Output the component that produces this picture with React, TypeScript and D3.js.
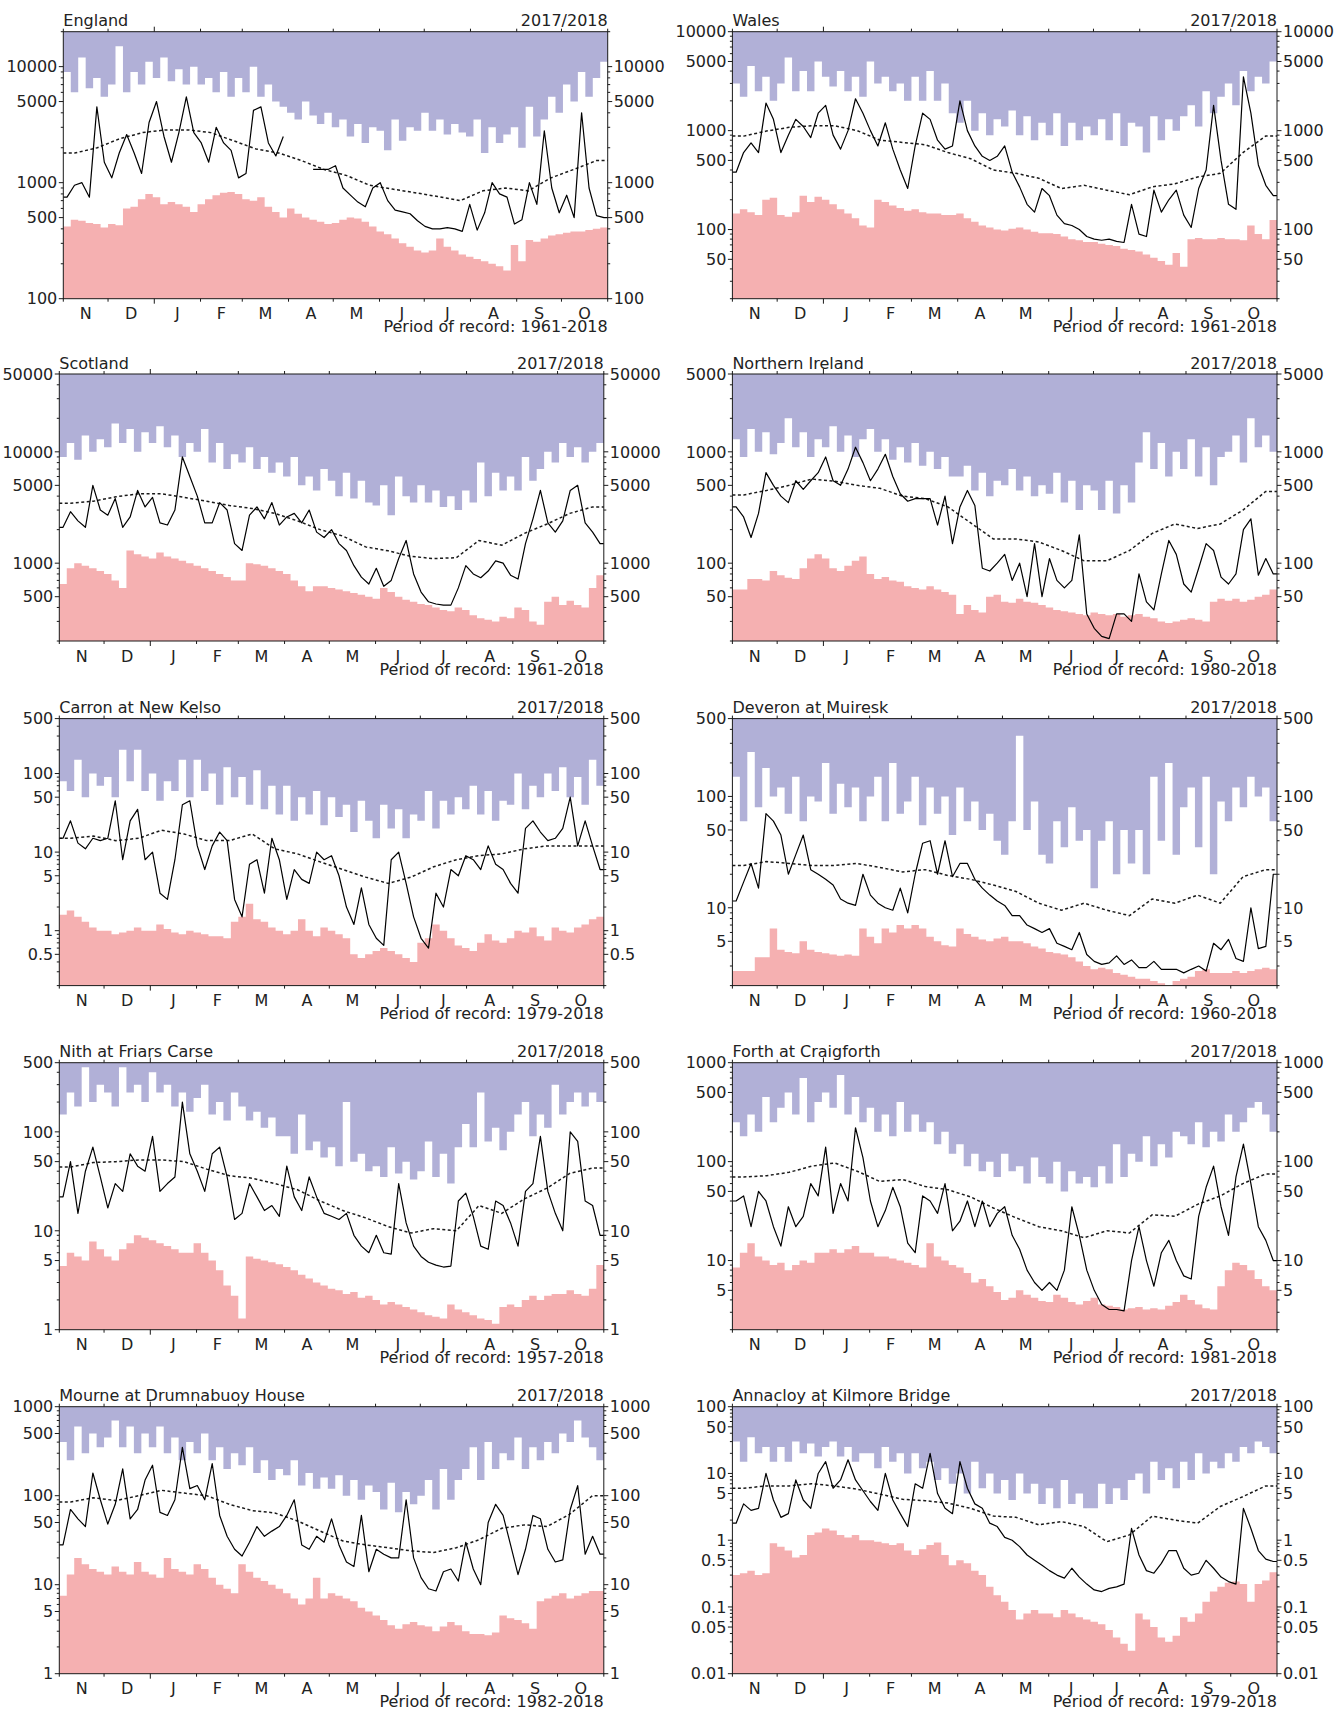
import React from 'react';
import * as d3 from 'd3';

// Mean flow is read as 24 half-month values. null = missing record.

const englandFlow = [750, 950, 1000, 750, 4500, 1500, 1100, 1800, 2600, 1800, 1200, 3300,
  5000, 2500, 1500, 2700, 5500, 2700, 2200, 1500, 3000, 2200, 1900, 1100,
  1200, 4200, 4500, 2200, 1700, 2500, null, null, null, 1300, 1300, 1300,
  1400, 900, 780, 680, 620, 900, 1000, 700, 580, 560, 540, 470,
  420, 400, 400, 410, 400, 380, 650, 390, 550, 1000, 800, 750,
  440, 480, 1000, 650, 2800, 900, 550, 780, 500, 4000, 900, 520, 500];
const englandMax = [9000, 6000, 12000, 6500, 8000, 5500, 7000, 15000, 6000, 9000, 7000, 11000,
  8000, 12000, 7500, 9500, 7000, 10000, 7000, 8000, 6000, 9000, 5500, 8000,
  6000, 10000, 5500, 7000, 5000, 4500, 4000, 3500, 5000, 3800, 3200, 4000,
  3000, 3500, 2500, 3200, 2200, 3000, 2800, 1900, 3500, 2300, 3000, 2800,
  4000, 2800, 3500, 2600, 3200, 2700, 2500, 3500, 1800, 3000, 2200, 2600,
  3000, 2000, 4500, 2500, 3500, 5500, 4000, 7000, 5000, 9000, 5500, 8000, 11000];
const englandMin = [420, 480, 470, 450, 440, 410, 440, 430, 600, 620, 720, 800,
  750, 650, 680, 650, 620, 560, 650, 720, 780, 820, 830, 800,
  720, 700, 750, 620, 560, 500, 600, 540, 500, 480, 460, 440,
  450, 480, 500, 490, 460, 420, 380, 360, 330, 300, 280, 260,
  250, 260, 330, 280, 260, 240, 230, 220, 210, 200, 190, 175,
  290, 210, 320, 310, 330, 350, 360, 370, 380, 380, 390, 400, 410];
const englandMean = [1800, 2000, 2400, 2700, 2850, 2850, 2700, 2300, 1950, 1800, 1550, 1300,
  1150, 950, 880, 820, 760, 700, 850, 900, 850, 1100, 1300, 1550];

const walesFlow = [380, 600, 750, 600, 1900, 1300, 600, 900, 1300, 1100, 850, 1500,
  1800, 900, 650, 1000, 2100, 1500, 1000, 700, 1200, 650, 400, 260,
  700, 1500, 1300, 800, 650, 700, 2000, 1000, 700, 550, 500, 550,
  700, 380, 270, 180, 150, 260, 220, 140, 115, 110, 100, 85,
  80, 78, 80, 76, 74, 180, 90, 85, 250, 150, 200, 250,
  140, 105, 260, 400, 1800, 500, 180, 160, 3500, 1500, 450, 280, 220];
const walesMax = [3000, 2200, 4500, 2500, 3500, 2000, 3000, 5500, 2500, 4000, 2500, 5000,
  3500, 2800, 4000, 2500, 3500, 2200, 5000, 3000, 3500, 2500, 3000, 2000,
  3500, 2000, 4000, 2000, 3000, 1500, 1200, 2000, 1000, 1500, 900, 1300,
  1100, 1600, 900, 1400, 800, 1200, 900, 1500, 700, 1200, 800, 1100,
  900, 1300, 800, 1500, 700, 1200, 1100, 600, 1400, 800, 1300, 1000,
  1400, 1800, 1100, 2500, 1500, 2200, 3000, 1800, 4000, 2500, 3500, 3000, 5000];
const walesMin = [145, 160, 150, 140, 200, 210, 140, 135, 150, 220, 190, 215,
  200, 180, 160, 145, 130, 110, 105, 200, 190, 175, 165, 155,
  160, 150, 145, 145, 140, 140, 145, 130, 120, 110, 105, 100,
  98, 102, 105, 100, 95, 92, 92, 90, 85, 80, 78, 75,
  75, 72, 70, 68, 64, 62, 60, 56, 52, 48, 44, 58,
  42, 80, 82, 80, 80, 82, 80, 80, 78, 110, 90, 80, 125];
const walesMean = [880, 990, 1080, 1120, 1120, 1000, 800, 760, 720, 600, 520, 400,
  370, 330, 260, 280, 250, 225, 270, 290, 340, 370, 600, 880];

const scotlandFlow = [2100, 2900, 2400, 2100, 5000, 3000, 2700, 3800, 2100, 2600, 4500, 3200,
  3900, 2300, 2200, 3000, 9000, 6000, 4000, 2300, 2300, 3500, 3000, 1500,
  1300, 2700, 3200, 2500, 3500, 2200, 2600, 2800, 2300, 3000, 1900, 1700,
  2000, 1500, 1300, 950, 750, 650, 900, 620, 700, 1100, 1600, 800,
  550, 450, 430, 420, 420, 600, 950, 800, 740, 850, 1050, 1000,
  780, 720, 1500, 2500, 4500, 2300, 1900, 2400, 4500, 5000, 2300, 1900, 1500];
const scotlandMax = [9000, 12000, 8500, 14000, 10000, 13000, 11000, 18000, 12000, 16000, 10000, 15000,
  12000, 17000, 11000, 14000, 9000, 12000, 10000, 16000, 8000, 12000, 7000, 9500,
  8000, 11000, 7000, 9000, 6500, 8000, 6000, 9000, 5000, 6000, 4500, 7000,
  5500, 4000, 6500, 3800, 5500, 3500, 3300, 5000, 2700, 6000, 4000, 3500,
  5000, 3500, 4500, 3200, 4000, 3000, 4500, 3500, 8000, 4000, 6500, 4500,
  6000, 4500, 9000, 5500, 7000, 10000, 8000, 12000, 9000, 11000, 8000, 10000, 12000];
const scotlandMin = [650, 900, 1000, 950, 900, 850, 800, 700, 600, 1300, 1200, 1150,
  1100, 1250, 1150, 1100, 1050, 1000, 950, 900, 850, 800, 750, 700,
  700, 1000, 980, 950, 900, 850, 800, 700, 620, 560, 620, 620,
  600, 580, 560, 540, 520, 500, 480, 600, 550, 500, 470, 450,
  430, 420, 400, 380, 370, 400, 380, 340, 320, 310, 300, 330,
  320, 400, 380, 300, 280, 450, 500, 420, 460, 420, 400, 600, 780];
const scotlandMean = [3450, 3600, 3950, 4200, 4200, 3900, 3600, 3300, 3100, 2800, 2400, 2000,
  1750, 1400, 1290, 1150, 1100, 1120, 1600, 1450, 1850, 2250, 2800, 3200];

const niFlow = [320, 260, 170, 280, 650, 500, 400, 350, 550, 460, 550, 650,
  900, 550, 500, 700, 1100, 800, 550, 700, 950, 600, 420, 360,
  380, 380, 380, 220, 400, 150, 320, 450, 330, 90, 85, 100,
  120, 70, 100, 50, 150, 50, 110, 70, 60, 70, 180, 35,
  26, 22, 21, 35, 35, 30, 80, 45, 38, 80, 160, 120,
  65, 55, 90, 150, 130, 75, 65, 80, 200, 250, 78, 110, 80];
const niMax = [1300, 900, 1600, 1000, 1500, 950, 1200, 2000, 1100, 1500, 900, 1300,
  1100, 1700, 1000, 1400, 900, 1300, 1600, 1000, 1300, 850, 1100, 800,
  1200, 750, 1000, 700, 900, 600, 600, 750, 450, 650, 400, 550,
  500, 700, 450, 600, 400, 500, 420, 650, 350, 550, 300, 500,
  450, 300, 550, 280, 500, 350, 800, 1500, 700, 1200, 600, 1000,
  700, 1300, 600, 1100, 500, 900, 1000, 1400, 800, 2000, 1100, 1400, 1000];
const niMin = [58, 58, 72, 72, 70, 85, 78, 74, 72, 90, 110, 120,
  110, 90, 85, 95, 105, 115, 80, 72, 75, 70, 68, 62,
  60, 58, 62, 58, 55, 52, 35, 42, 38, 36, 50, 52,
  45, 44, 48, 45, 44, 42, 40, 38, 37, 36, 35, 34,
  36, 35, 34, 35, 33, 34, 35, 33, 32, 30, 29, 30,
  31, 32, 31, 30, 45, 48, 46, 48, 45, 47, 50, 52, 58];
const niMean = [410, 450, 500, 570, 545, 500, 470, 400, 380, 320, 230, 165,
  165, 155, 130, 105, 105, 130, 185, 225, 205, 225, 300, 440];

const carronFlow = [15, 25, 13, 11, 15, 14, 15, 45, 8, 25, 35, 8,
  10, 3, 2.5, 8, 40, 45, 12, 6, 12, 18, 14, 2.5,
  1.5, 7, 8, 3, 15, 8, 2.5, 6, 4.5, 4, 10, 8,
  9, 5, 2, 1.2, 3.5, 1.2, 0.8, 0.65, 8, 10, 4, 1.5,
  0.8, 0.6, 3, 2, 6, 5, 9, 8, 6, 12, 7, 6,
  4, 3, 20, 25, 18, 14, 15, 20, 50, 12, 25, 12, 6];
const carronMax = [80, 60, 150, 50, 100, 70, 90, 50, 200, 80, 200, 60,
  100, 45, 80, 60, 150, 50, 150, 60, 100, 40, 120, 50,
  90, 40, 110, 35, 70, 30, 70, 25, 50, 30, 60, 22,
  50, 28, 40, 18, 45, 25, 15, 40, 20, 35, 15, 30,
  25, 60, 20, 45, 30, 50, 35, 70, 30, 60, 25, 45,
  40, 100, 35, 70, 50, 100, 60, 120, 50, 90, 40, 150, 70];
const carronMin = [1.6, 1.8, 1.5, 1.3, 1.1, 1.0, 1.0, 0.9, 0.95, 1.0, 1.1, 1.0,
  1.0, 1.2, 1.05, 0.95, 0.9, 1.0, 0.95, 0.9, 0.85, 0.85, 0.8, 1.3,
  1.5, 2.2, 1.4, 1.3, 1.1, 1.0, 0.9, 1.0, 1.4, 1.0, 0.85, 1.1,
  1.0, 0.9, 0.8, 0.5, 0.45, 0.5, 0.55, 0.6, 0.55, 0.5, 0.45, 0.4,
  0.7, 0.8, 1.2, 1.0, 0.8, 0.65, 0.6, 0.55, 0.7, 0.9, 0.75, 0.7,
  0.8, 1.0, 0.95, 1.1, 0.85, 0.75, 1.1, 1.0, 0.95, 1.1, 1.2, 1.4, 1.5];
const carronMean = [15, 16, 14, 15, 19, 17, 14, 14, 17, 11, 9.5, 7.5,
  6, 4.8, 4, 4.8, 6.5, 8, 9, 9.5, 11, 12, 12, 12];

const deveronFlow = [11.5, 17, 25, 15, 70, 60, 45, 20, 30, 45, 22, 20,
  18, 16, 12, 11, 10.5, 20, 13, 11, 10, 9.5, 15, 9,
  20, 38, 40, 20, 40, 19, 25, 25, 18, 15, 13, 11.5,
  10.5, 8.5, 8.5, 7, 6.5, 6, 6.5, 4.8, 4.5, 4.2, 6, 3.8,
  3.3, 3.1, 3.2, 3.7, 3.1, 3.4, 2.9, 2.9, 3.3, 2.8, 2.8, 2.8,
  2.6, 2.8, 3.0, 2.7, 4.8, 4.2, 5.2, 3.5, 3.3, 10, 4.3, 4.5, 20];
const deveronMax = [150, 60, 250, 80, 180, 100, 120, 70, 150, 60, 100, 90,
  200, 70, 130, 80, 120, 60, 100, 150, 60, 200, 70, 90,
  150, 55, 120, 70, 100, 45, 120, 60, 90, 50, 70, 40,
  30, 60, 350, 50, 90, 30, 25, 60, 35, 80, 40, 50,
  15, 40, 60, 20, 50, 25, 50, 20, 150, 40, 200, 30,
  80, 120, 35, 150, 20, 90, 60, 120, 80, 150, 100, 120, 60];
const deveronMin = [2.7, 2.7, 2.7, 3.6, 3.6, 6.5, 4.2, 4.0, 3.9, 5.0, 4.2, 4.0,
  3.9, 3.8, 3.7, 3.8, 3.7, 6.5, 5.5, 4.8, 6.5, 6.0, 7.0, 6.5,
  7.0, 6.5, 5.5, 5.0, 4.6, 4.5, 6.5, 5.8, 5.5, 5.2, 5.0, 5.3,
  5.5, 5.0, 5.0, 4.8, 4.5, 4.3, 4.0, 3.9, 3.8, 3.6, 3.3, 3.0,
  2.8, 2.9, 2.8, 2.6, 2.5, 2.4, 2.3, 2.3, 2.2, 2.1, 2.0, 2.2,
  2.3, 2.4, 2.7, 2.8, 2.6, 2.6, 2.6, 2.7, 2.6, 2.7, 2.8, 2.9, 2.8];
const deveronMean = [24, 26, 25, 24, 24, 25, 23, 21, 22, 19.5, 18, 16,
  14, 11, 9.5, 11, 9.5, 8.5, 12, 11, 13, 11, 19, 22];

const nithFlow = [22, 50, 15, 40, 70, 35, 17, 30, 25, 60, 45, 40,
  90, 25, 30, 35, 200, 60, 40, 25, 60, 70, 35, 13,
  15, 30, 22, 16, 18, 14, 45, 22, 16, 35, 22, 15,
  14, 13, 15, 9, 7, 6, 9, 6, 5.8, 30, 12, 7,
  5.5, 4.8, 4.5, 4.3, 4.4, 20, 24, 14, 7, 6.5, 20, 18,
  12, 7, 25, 30, 90, 25, 15, 10, 100, 80, 20, 18, 9];
const nithMax = [150, 250, 180, 450, 200, 300, 250, 180, 450, 250, 300, 200,
  400, 250, 300, 180, 250, 160, 220, 300, 150, 200, 130, 250,
  180, 130, 160, 110, 140, 90, 90, 60, 150, 65, 80, 55,
  70, 45, 200, 50, 60, 40, 45, 35, 70, 38, 50, 33,
  40, 80, 35, 60, 30, 70, 120, 70, 250, 80, 110, 65,
  100, 150, 200, 90, 150, 110, 300, 150, 200, 250, 180, 250, 200];
const nithMin = [4.4, 6.0, 5.5, 5.0, 7.8, 6.5, 5.5, 5.0, 6.5, 7.5, 9.0, 8.5,
  8.0, 7.5, 7.0, 6.5, 6.0, 6.0, 7.5, 6.0, 5.0, 4.0, 2.8, 2.2,
  1.3, 5.5, 5.2, 5.0, 4.8, 4.6, 4.3, 4.0, 3.6, 3.3, 3.0, 2.8,
  2.6, 2.5, 2.3, 2.4, 2.1, 2.2, 2.0, 1.8, 1.9, 1.8, 1.7, 1.6,
  1.5, 1.4, 1.35, 1.3, 1.8, 1.6, 1.5, 1.4, 1.3, 1.25, 1.15, 1.7,
  1.8, 1.7, 2.0, 2.2, 2.0, 2.2, 2.3, 2.3, 2.5, 2.3, 2.2, 2.6, 4.5];
const nithMean = [44, 49, 50, 52, 52, 50, 42, 36, 34, 30, 26, 20,
  16, 13.5, 11, 9.5, 10.5, 10, 18, 15, 21, 27, 38, 43];

const forthFlow = [40, 45, 22, 50, 40, 22, 14, 35, 22, 28, 60, 45,
  140, 30, 60, 40, 220, 110, 40, 22, 32, 55, 35, 15,
  12, 45, 40, 30, 60, 20, 25, 40, 22, 40, 22, 30,
  35, 18, 13, 8, 6, 5, 6, 5, 8, 35, 18, 8,
  5, 3.6, 3.2, 3.2, 3.1, 10, 22, 10, 5.5, 12, 16, 10,
  7, 6.5, 28, 55, 90, 35, 18, 70, 150, 60, 22, 16, 10];
const forthMax = [250, 180, 300, 200, 450, 250, 350, 500, 300, 700, 250, 400,
  500, 350, 750, 300, 450, 250, 350, 200, 300, 180, 400, 200,
  300, 200, 250, 150, 200, 120, 150, 90, 120, 80, 100, 70,
  120, 80, 90, 60, 110, 70, 60, 100, 50, 80, 60, 70,
  55, 90, 60, 150, 70, 120, 100, 180, 90, 150, 110, 200,
  180, 150, 250, 140, 200, 160, 300, 200, 250, 350, 400, 300, 200];
const forthMin = [8.5, 12, 15, 11, 10, 9, 9.5, 8, 9, 10, 9.5, 12,
  12, 13, 12, 13, 14, 12, 12, 11, 11, 10.5, 10, 9.5,
  9, 8.5, 15, 11, 10, 9, 8.5, 7.5, 6, 6.5, 5.5, 4.8,
  4, 4.2, 5, 4.5, 4.2, 3.9, 3.8, 4.5, 4.2, 3.8, 3.6, 3.9,
  4.2, 3.6, 3.5, 3.4, 3.2, 3.3, 3.4, 3.2, 3.3, 3.2, 3.5, 3.8,
  4.5, 4.0, 3.6, 3.3, 3.2, 5.5, 8, 9.5, 9, 8, 6.5, 5.5, 5];
const forthMean = [70, 72, 78, 90, 97, 80, 63, 66, 56, 52, 44, 34,
  27, 22, 20, 17, 20, 19, 29, 28, 37, 45, 60, 75];

const mourneFlow = [28, 70, 55, 45, 180, 90, 48, 80, 200, 55, 70, 150,
  220, 65, 60, 90, 350, 120, 130, 90, 230, 60, 35, 25,
  21, 30, 45, 35, 40, 45, 60, 90, 28, 25, 35, 30,
  55, 28, 18, 16, 60, 14, 25, 22, 20, 20, 90, 20,
  12, 9, 8.5, 14, 15, 11, 30, 15, 10, 50, 80, 60,
  28, 13, 25, 60, 55, 25, 18, 19, 70, 130, 22, 35, 22];
const mourneMax = [400, 250, 600, 300, 500, 350, 450, 700, 350, 600, 300, 500,
  350, 600, 300, 450, 250, 400, 300, 500, 250, 350, 200, 300,
  220, 350, 180, 250, 150, 200, 170, 250, 130, 180, 120, 160,
  120, 170, 100, 150, 90, 130, 110, 70, 140, 65, 110, 80,
  100, 150, 70, 200, 90, 150, 200, 350, 150, 400, 200, 300,
  250, 450, 200, 350, 250, 400, 300, 500, 400, 700, 450, 350, 250];
const mourneMin = [7.5, 13, 20, 17, 15, 14, 13, 16, 14, 13, 18, 14,
  13, 12, 20, 15, 14, 13, 17, 15, 12, 10, 9, 8,
  17, 14, 12, 11, 10, 9, 8, 7, 6, 7, 12, 7,
  8, 7.5, 7, 6.5, 5.5, 5, 4.5, 4, 3.5, 3.2, 3.6, 3.8,
  3.5, 3.4, 3.0, 3.4, 3.8, 3.5, 3.0, 2.8, 2.8, 2.7, 2.9, 4.5,
  4.2, 4.0, 3.7, 3.2, 6.5, 7, 7.5, 8, 7, 7.5, 8, 8.5, 8.5];
const mourneMean = [85, 95, 88, 100, 115, 107, 100, 80, 68, 64, 52, 40,
  31, 28, 26, 24, 23, 26, 32, 43, 47, 45, 62, 100];

const annacloyFlow = [1.8, 3.5, 2.8, 3, 10, 4, 2.2, 2.5, 8, 4, 3, 10,
  15, 6, 8, 16, 8, 5.5, 3.8, 2.8, 10, 4, 2.5, 1.6,
  7, 6, 20, 5, 3, 2.5, 15, 6, 3.5, 3, 1.8, 1.6,
  1.1, 1.0, 0.8, 0.6, 0.5, 0.42, 0.35, 0.3, 0.27, 0.38, 0.28, 0.22,
  0.18, 0.17, 0.19, 0.2, 0.22, 1.5, 0.6, 0.35, 0.32, 0.45, 0.7, 0.7,
  0.38, 0.3, 0.32, 0.5, 0.38, 0.28, 0.24, 0.22, 3, 1.5, 0.7, 0.52, 0.48];
const annacloyMax = [30, 15, 35, 20, 25, 15, 25, 15, 30, 20, 28, 18,
  25, 30, 18, 25, 15, 20, 20, 12, 25, 15, 20, 10,
  20, 12, 15, 8, 12, 7, 10, 5, 15, 6, 10, 5,
  8, 4, 10, 5, 7, 3.5, 6, 3, 8, 3.5, 5, 3,
  3, 7, 3.5, 6, 4, 8, 10, 5, 15, 8, 12, 6,
  15, 8, 20, 10, 15, 12, 20, 15, 25, 20, 30, 25, 20];
const annacloyMin = [0.3, 0.32, 0.35, 0.3, 0.32, 0.9, 0.8, 0.7, 0.55, 0.6, 1.2, 1.3,
  1.5, 1.4, 1.2, 1.1, 1.2, 1.0, 1.0, 0.95, 0.9, 0.85, 0.9, 0.7,
  0.6, 0.73, 0.85, 0.92, 0.6, 0.42, 0.5, 0.45, 0.35, 0.3, 0.2, 0.15,
  0.12, 0.09, 0.065, 0.08, 0.09, 0.08, 0.08, 0.07, 0.09, 0.08, 0.07, 0.065,
  0.06, 0.055, 0.045, 0.035, 0.028, 0.022, 0.08, 0.065, 0.05, 0.035, 0.03, 0.037,
  0.07, 0.06, 0.08, 0.12, 0.17, 0.2, 0.23, 0.24, 0.22, 0.12, 0.22, 0.25, 0.33];
const annacloyMean = [6, 6.5, 6.5, 7, 6.5, 5.8, 4.9, 4.1, 3.9, 3.6, 3.0, 2.3,
  2.2, 1.7, 1.9, 1.6, 0.95, 1.2, 2.3, 2.0, 1.8, 3.2, 4.5, 6.5];

const monthLabels = ['N', 'D', 'J', 'F', 'M', 'A', 'M', 'J', 'J', 'A', 'S', 'O'];
const monthDays = [30, 31, 31, 28, 31, 30, 31, 30, 31, 31, 30, 31];

const panels = [
  { title: 'England', period: '1961-2018', domain: [100, 20000], ticks: [100, 500, 1000, 5000, 10000],
    flow: englandFlow, max: englandMax, min: englandMin, mean: englandMean },
  { title: 'Wales', period: '1961-2018', domain: [20, 10000], ticks: [50, 100, 500, 1000, 5000, 10000],
    flow: walesFlow, max: walesMax, min: walesMin, mean: walesMean },
  { title: 'Scotland', period: '1961-2018', domain: [200, 50000], ticks: [500, 1000, 5000, 10000, 50000],
    flow: scotlandFlow, max: scotlandMax, min: scotlandMin, mean: scotlandMean },
  { title: 'Northern Ireland', period: '1980-2018', domain: [20, 5000], ticks: [50, 100, 500, 1000, 5000],
    flow: niFlow, max: niMax, min: niMin, mean: niMean },
  { title: 'Carron at New Kelso', period: '1979-2018', domain: [0.2, 500], ticks: [0.5, 1, 5, 10, 50, 100, 500],
    flow: carronFlow, max: carronMax, min: carronMin, mean: carronMean },
  { title: 'Deveron at Muiresk', period: '1960-2018', domain: [2, 500], ticks: [5, 10, 50, 100, 500],
    flow: deveronFlow, max: deveronMax, min: deveronMin, mean: deveronMean },
  { title: 'Nith at Friars Carse', period: '1957-2018', domain: [1, 500], ticks: [1, 5, 10, 50, 100, 500],
    flow: nithFlow, max: nithMax, min: nithMin, mean: nithMean },
  { title: 'Forth at Craigforth', period: '1981-2018', domain: [2, 1000], ticks: [5, 10, 50, 100, 500, 1000],
    flow: forthFlow, max: forthMax, min: forthMin, mean: forthMean },
  { title: 'Mourne at Drumnabuoy House', period: '1982-2018', domain: [1, 1000], ticks: [1, 5, 10, 50, 100, 500, 1000],
    flow: mourneFlow, max: mourneMax, min: mourneMin, mean: mourneMean },
  { title: 'Annacloy at Kilmore Bridge', period: '1979-2018', domain: [0.01, 100],
    ticks: [0.01, 0.05, 0.1, 0.5, 1, 5, 10, 50, 100],
    flow: annacloyFlow, max: annacloyMax, min: annacloyMin, mean: annacloyMean },
];

// layout
const W = 1334, H = 1711;
const PLOT_H = 267;
const ROW_TOP = [31.7, 374, 718.6, 1062.7, 1406.7];
const PLOT_X = [[63.3, 607.7], [732.4, 1277], [59.3, 603.8], [732.4, 1277], [59.3, 603.8],
  [732.4, 1277], [59.3, 603.8], [732.4, 1277], [59.3, 603.8], [732.4, 1277]];
const BIN = 5;
const YEAR_DAYS = 365;
const FONT = '"DejaVu Sans", Verdana, sans-serif';
const FS = 16;
const BLUE = '#b1b0d7';
const PINK = '#f5b0b1';
const INK = '#1a1a1a';

// each value held flat over its 5-day block (envelopes)
function steps(vals) {
  const pts = [];
  vals.forEach((v, i) => {
    if (v == null) pts.push(null);
    else pts.push([i * BIN, v], [(i + 1) * BIN, v]);
  });
  return pts;
}

// block values placed at the middle of their block, held to both plot edges (flow line)
function centred(vals) {
  const pts = vals.map((v, i) => (v == null ? null : [(i + 0.5) * BIN, v]));
  if (vals[0] != null) pts.unshift([0, vals[0]]);
  if (vals[vals.length - 1] != null) pts.push([YEAR_DAYS, vals[vals.length - 1]]);
  return pts;
}

function Panel({ p, x0, x1, top }) {
  const bottom = top + PLOT_H;
  const x = d3.scaleLinear().domain([0, YEAR_DAYS]).range([x0, x1]);
  const y = d3.scaleLog().domain(p.domain).range([bottom, top]).clamp(true);

  const maxArea = d3.area().x(d => x(d[0])).y0(top).y1(d => y(d[1]));
  const minArea = d3.area().x(d => x(d[0])).y0(bottom).y1(d => y(d[1]));
  const flowLine = d3.line().defined(d => d != null).x(d => x(d[0])).y(d => y(d[1]));
  const n = p.mean.length;
  const meanPts = [[0, p.mean[0]], ...p.mean.map((v, i) => [(i + 0.5) * YEAR_DAYS / n, v]), [YEAR_DAYS, p.mean[n - 1]]];
  const meanLine = d3.line().x(d => x(d[0])).y(d => y(d[1]));

  const bounds = [0];
  monthDays.forEach(d => bounds.push(bounds[bounds.length - 1] + d));

  const [lo, hi] = p.domain;
  const minor = [];
  for (let e = Math.floor(Math.log10(lo)); e <= Math.ceil(Math.log10(hi)); e++) {
    for (let k = 1; k <= 9; k++) {
      const v = +(k * Math.pow(10, e)).toPrecision(2);
      if (v >= lo * 0.999 && v <= hi * 1.001 && !p.ticks.includes(v)) minor.push(v);
    }
  }

  return (
    <g>
      <path d={maxArea(steps(p.max))} fill={BLUE} />
      <path d={minArea(steps(p.min))} fill={PINK} />
      <path d={meanLine(meanPts)} fill="none" stroke={INK} strokeWidth={1.5} strokeDasharray="3 2.5" />
      <path d={flowLine(centred(p.flow))} fill="none" stroke="#000" strokeWidth={1.2} strokeLinejoin="round" />
      <rect x={x0} y={top} width={x1 - x0} height={PLOT_H} fill="none" stroke={INK} strokeWidth={1} />

      {bounds.map((b, i) => {
        const len = i === 2 ? 5 : 3;
        return (
          <g key={'m' + i} stroke={INK} strokeWidth={1}>
            <line x1={x(b)} x2={x(b)} y1={top} y2={top - len} />
            <line x1={x(b)} x2={x(b)} y1={bottom} y2={bottom + len} />
          </g>
        );
      })}
      {monthLabels.map((m, i) => (
        <text key={'l' + i} x={x((bounds[i] + bounds[i + 1]) / 2)} y={bottom + 20.6} textAnchor="middle">{m}</text>
      ))}

      {minor.map(v => (
        <g key={'n' + v} stroke={INK} strokeWidth={1}>
          <line x1={x0} x2={x0 - 2.5} y1={y(v)} y2={y(v)} />
          <line x1={x1} x2={x1 + 2.5} y1={y(v)} y2={y(v)} />
        </g>
      ))}
      {p.ticks.map(v => (
        <g key={'t' + v}>
          <line x1={x0} x2={x0 - 4.5} y1={y(v)} y2={y(v)} stroke={INK} />
          <line x1={x1} x2={x1 + 4.5} y1={y(v)} y2={y(v)} stroke={INK} />
          <text x={x0 - 6} y={y(v)} dy="0.36em" textAnchor="end">{String(v)}</text>
          <text x={x1 + 6} y={y(v)} dy="0.36em" textAnchor="start">{String(v)}</text>
        </g>
      ))}

      <text x={x0} y={top - 5.5}>{p.title}</text>
      <text x={x1} y={top - 5.5} textAnchor="end">2017/2018</text>
      <text x={x1} y={bottom + 33.5} textAnchor="end">{'Period of record: ' + p.period}</text>
    </g>
  );
}

export default function App() {
  return (
    <svg width={W} height={H} viewBox={`0 0 ${W} ${H}`}
      style={{ position: 'absolute', left: 0, top: 0, background: '#fff' }}
      fontFamily={FONT} fontSize={FS} fill="#222">
      <rect x={0} y={0} width={W} height={H} fill="#fff" />
      {panels.map((p, i) => (
        <Panel key={p.title} p={p} x0={PLOT_X[i][0]} x1={PLOT_X[i][1]} top={ROW_TOP[Math.floor(i / 2)]} />
      ))}
    </svg>
  );
}
